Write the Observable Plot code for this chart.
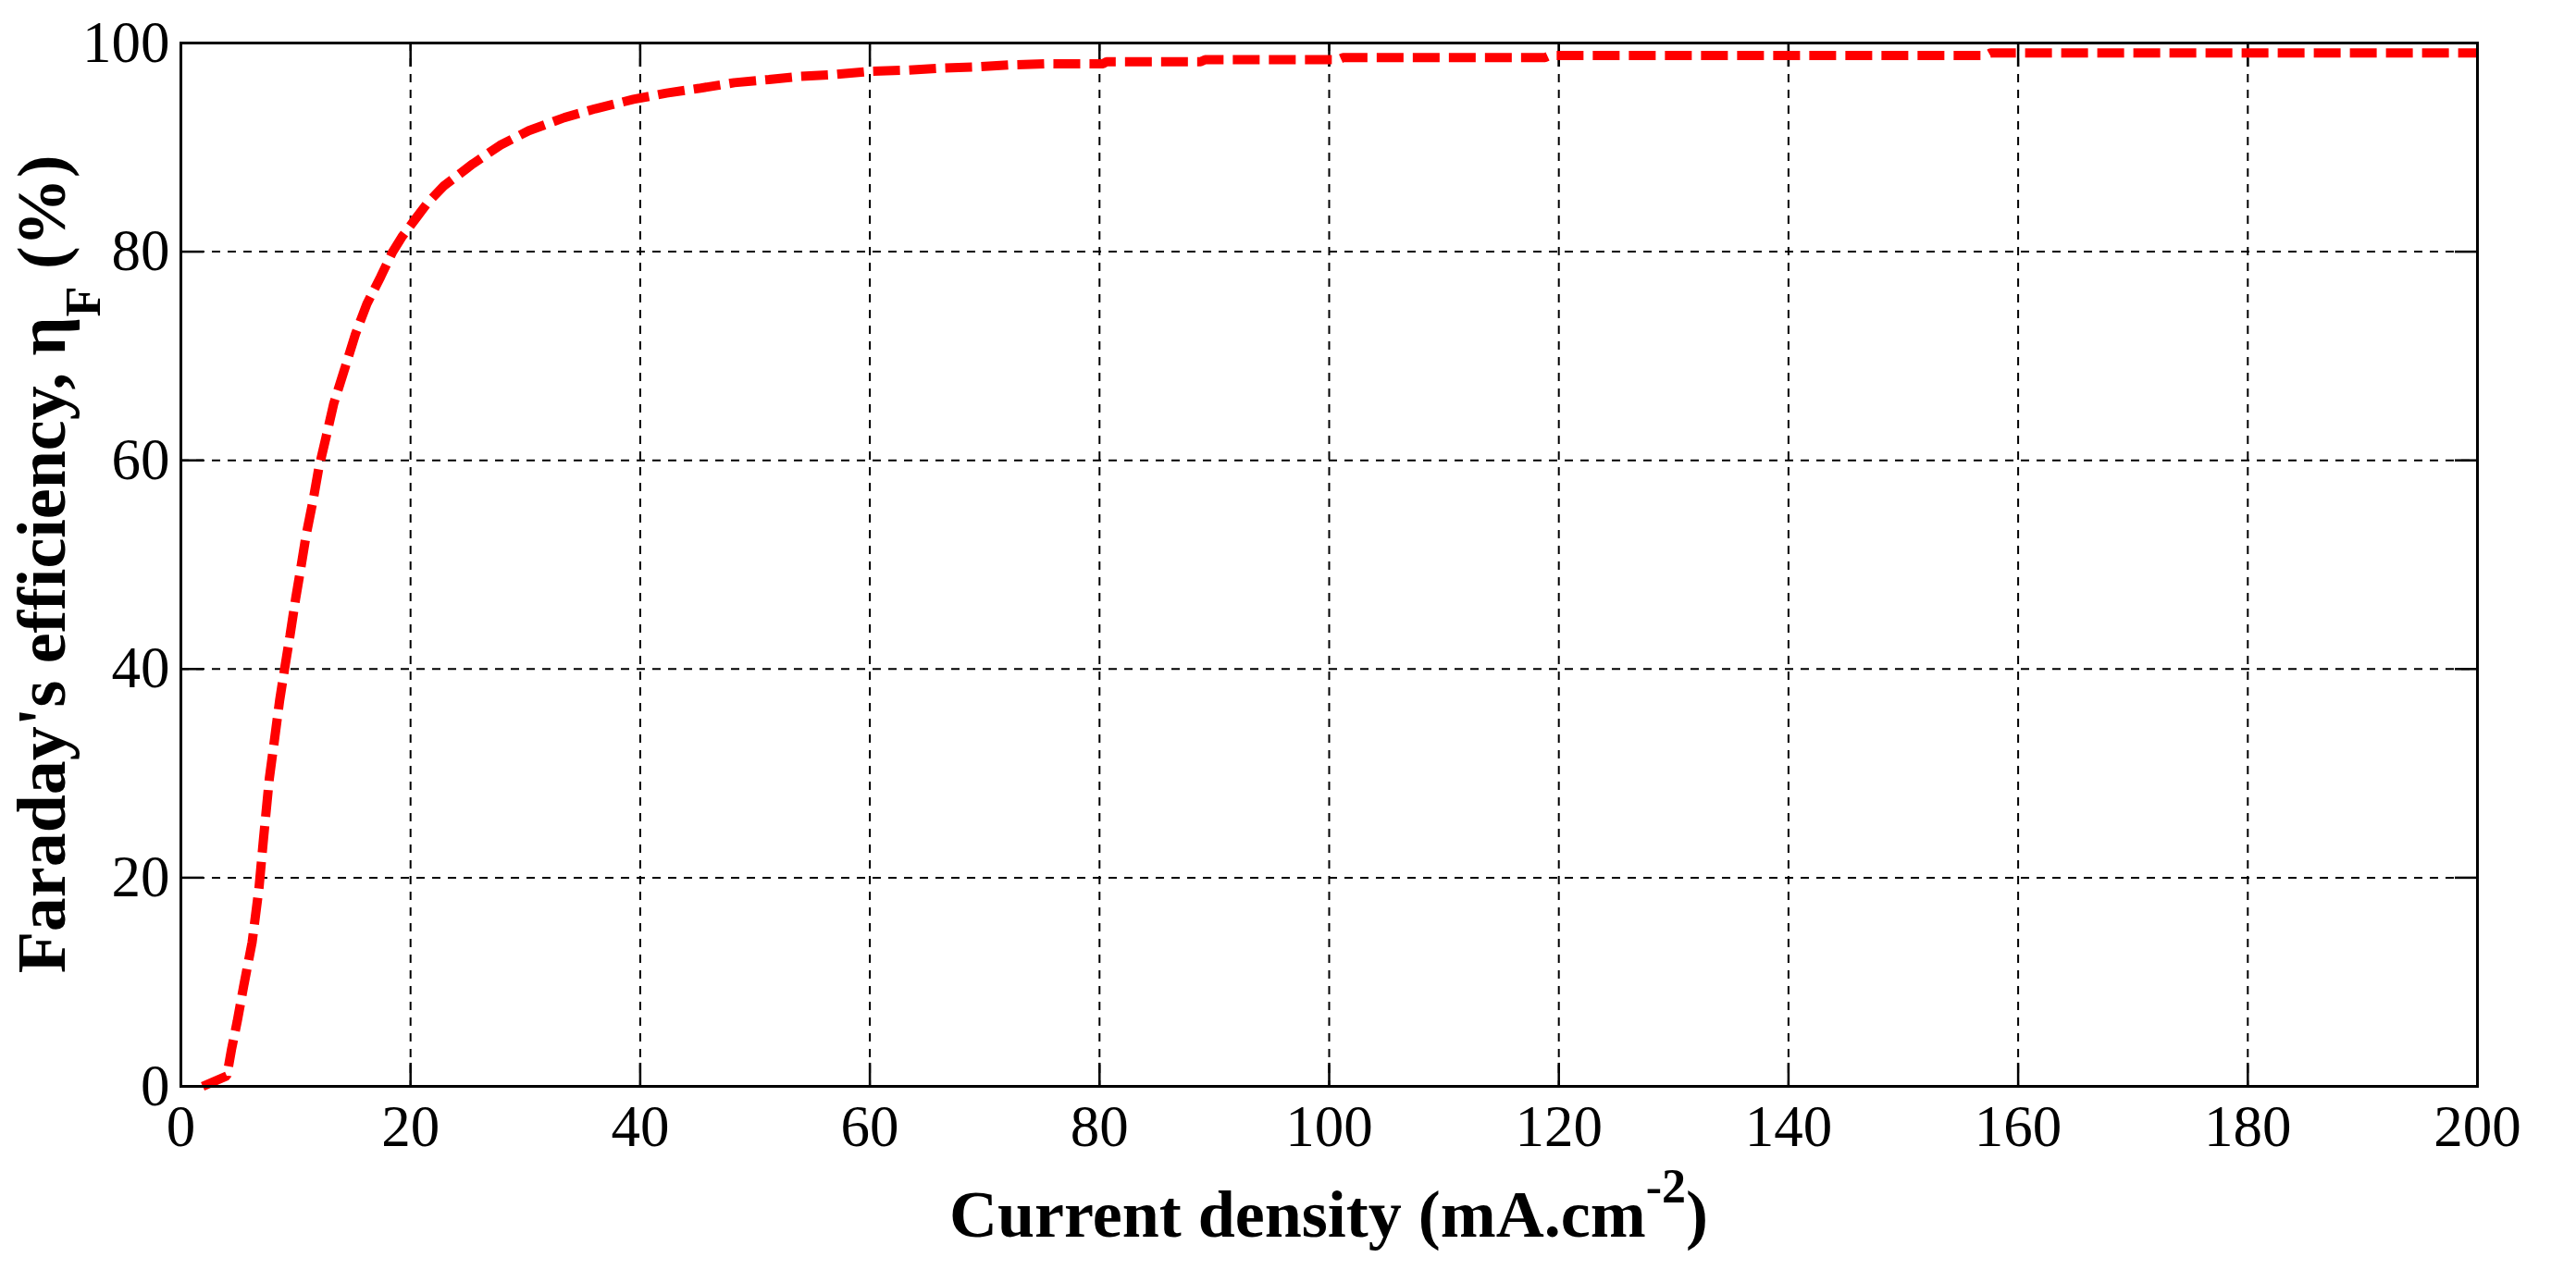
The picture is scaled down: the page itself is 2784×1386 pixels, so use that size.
<!DOCTYPE html>
<html>
<head>
<meta charset="utf-8">
<script src="https://cdn.jsdelivr.net/npm/d3@7"></script>
<script src="https://cdn.jsdelivr.net/npm/@observablehq/plot@0.6"></script>
<style>
  html, body { margin: 0; padding: 0; background: #ffffff; }
  #chart svg { display: block; }
</style>
</head>
<body>
<div id="chart"></div>
<script>
// Current density (mA.cm-2)
const currentDensity = [1.9, 4.0, 4.4, 4.9, 5.5, 6.2, 6.8, 7.2, 7.7, 8.1, 8.6, 9.0, 9.5, 10.0, 10.4,
  10.9, 11.5, 12.0, 12.7, 13.3, 14.3, 15.2, 16.2, 17.4, 18.4, 19.3, 20.4, 21.5, 22.9, 25.4,
  27.8, 30.3, 33.4, 36.1, 39.4, 42.3, 45.1, 48.2, 51.2, 54.0, 57.1, 60.1, 63.2, 66.3, 69.0,
  72.1, 75.2, 80.3, 80.6, 88.8, 89.2, 100.8, 101.2, 118.8, 119.2, 157.2, 157.6, 200];
// Faraday's efficiency (%)
const faradayEff = [0, 1.0, 3.5, 6.2, 9.8, 13.8, 19.0, 23.8, 29.5, 32.8, 37.0, 39.8, 43.2, 46.8, 49.4,
  52.8, 56.1, 59.2, 62.5, 65.4, 68.9, 72.1, 75.0, 77.6, 79.9, 81.5, 83.1, 84.7, 86.3, 88.4,
  90.2, 91.6, 92.85, 93.7, 94.6, 95.2, 95.65, 96.2, 96.5, 96.8, 97.0, 97.3, 97.4, 97.6, 97.7,
  97.9, 98.0, 98.0, 98.2, 98.2, 98.4, 98.4, 98.6, 98.6, 98.8, 98.8, 99.05, 99.05];
const xTicks = [0, 20, 40, 60, 80, 100, 120, 140, 160, 180, 200];
const yTicks = [0, 20, 40, 60, 80, 100];
const xLabelMain = "Current density (mA.cm";
const xLabelSup = "-2";
const xLabelEnd = ")";
const yLabelMain = "Faraday's efficiency, η";
const yLabelSub = "F";
const yLabelEnd = " (%)";

const data = currentDensity.map((j, i) => ({j, eta: faradayEff[i]}));

const FONT = "'Liberation Serif', 'Times New Roman', serif";
const TICK = 25;

const chart = Plot.plot({
  width: 2784,
  height: 1386,
  marginLeft: 195,
  marginRight: 107,
  marginTop: 46,
  marginBottom: 212,
  style: {fontFamily: FONT, fontSize: "62px", background: "#ffffff", color: "#000000"},
  x: {domain: [0, 200]},
  y: {domain: [0, 100]},
  marks: [
    Plot.gridX(xTicks, {stroke: "#000", strokeOpacity: 1, strokeWidth: 2, strokeDasharray: "9,8"}),
    Plot.gridY(yTicks, {stroke: "#000", strokeOpacity: 1, strokeWidth: 2, strokeDasharray: "9,8"}),
    // inward ticks
    Plot.axisX(xTicks, {anchor: "bottom", tickSize: TICK, dy: -TICK, fill: "none", stroke: "#000", strokeWidth: 2.5, label: null}),
    Plot.axisX(xTicks, {anchor: "top", tickSize: TICK, dy: TICK, fill: "none", stroke: "#000", strokeWidth: 2.5, label: null}),
    Plot.axisY(yTicks, {anchor: "left", tickSize: TICK, dx: TICK, fill: "none", stroke: "#000", strokeWidth: 2.5, label: null}),
    Plot.axisY(yTicks, {anchor: "right", tickSize: TICK, dx: -TICK, fill: "none", stroke: "#000", strokeWidth: 2.5, label: null}),
    // tick labels
    Plot.axisX(xTicks, {anchor: "bottom", tickSize: 0, tickPadding: 20, fill: "#000", fontSize: 63, label: null}),
    Plot.axisY(yTicks, {anchor: "left", tickSize: 0, tickPadding: 12, fill: "#000", fontSize: 63, label: null}),
    Plot.line(data, {x: "j", y: "eta", stroke: "#ff0000", strokeWidth: 10, strokeDasharray: "29,10", strokeLinecap: "butt", strokeLinejoin: "miter"}),
    Plot.frame({stroke: "#000", strokeWidth: 3})
  ]
});

document.getElementById("chart").appendChild(chart);

const sx = chart.scale("x");
const sy = chart.scale("y");
const xMid = (sx.range[0] + sx.range[1]) / 2;
const yMid = (sy.range[0] + sy.range[1]) / 2;
const svg = d3.select(chart);

// x-axis title
const xt = svg.append("text")
  .attr("x", xMid).attr("y", 1337)
  .attr("text-anchor", "middle")
  .attr("fill", "#000")
  .style("font-family", FONT).style("font-weight", "bold").style("font-size", "72px");
xt.append("tspan").text(xLabelMain);
xt.append("tspan").attr("dy", -37).style("font-size", "52px").text(xLabelSup);
xt.append("tspan").attr("dy", 37).text(xLabelEnd);

// y-axis title
const yt = svg.append("text")
  .attr("transform", `translate(70, ${yMid}) rotate(-90)`)
  .attr("text-anchor", "middle")
  .attr("fill", "#000")
  .style("font-family", FONT).style("font-weight", "bold").style("font-size", "74px");
yt.append("tspan").text(yLabelMain);
yt.append("tspan").attr("dy", 38).style("font-size", "54px").text(yLabelSub);
yt.append("tspan").attr("dy", -38).text(yLabelEnd);
</script>
</body>
</html>
